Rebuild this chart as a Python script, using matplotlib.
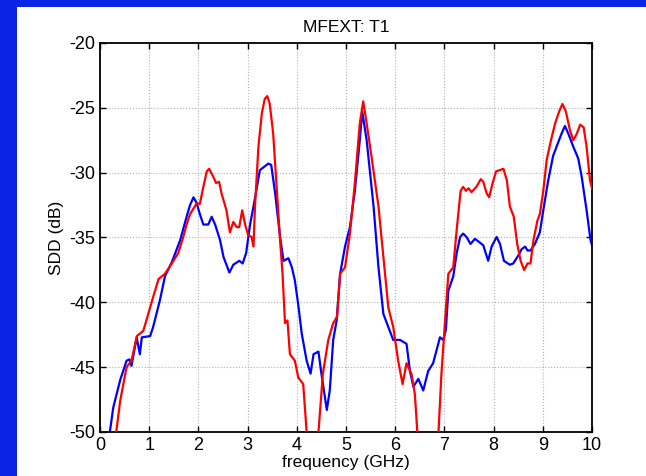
import matplotlib
matplotlib.use("Agg")
import matplotlib.pyplot as plt
from matplotlib.patches import Rectangle

plt.rcParams['font.family'] = ['Liberation Sans', 'DejaVu Sans']
plt.rcParams['axes.unicode_minus'] = False

title = "MFEXT: T1"
xlabel = "frequency (GHz)"
ylabel = "SDD (dB)"
xticks = [0, 1, 2, 3, 4, 5, 6, 7, 8, 9, 10]
yticks = [-50, -45, -40, -35, -30, -25, -20]

blue_f = [0.15, 0.2, 0.27, 0.41, 0.54, 0.6, 0.64, 0.745, 0.81, 0.85, 1.02, 1.08, 1.22, 1.32,
          1.46, 1.63, 1.76, 1.83, 1.9, 1.96, 2.03, 2.1, 2.2, 2.27, 2.34, 2.44, 2.51, 2.63,
          2.71, 2.83, 2.9, 2.97, 3.05, 3.12, 3.19, 3.25, 3.32, 3.42, 3.48, 3.56, 3.66,
          3.73, 3.83, 3.9, 3.96, 4.03, 4.1, 4.2, 4.28, 4.34, 4.44, 4.5, 4.61, 4.67, 4.74,
          4.81, 4.88, 4.98, 5.08, 5.18, 5.28, 5.33, 5.42, 5.56, 5.66, 5.76, 5.86, 5.96,
          6.1, 6.23, 6.3, 6.37, 6.47, 6.57, 6.67, 6.77, 6.91, 6.98, 7.03, 7.08, 7.18, 7.25,
          7.32, 7.38, 7.45, 7.53, 7.62, 7.69, 7.79, 7.89, 7.96, 8.06, 8.13, 8.21, 8.33,
          8.4, 8.5, 8.57, 8.64, 8.69, 8.75, 8.84, 8.94, 9.01, 9.11, 9.21, 9.31, 9.38,
          9.45, 9.52, 9.62, 9.72, 9.79, 9.89, 9.97, 10.0]
blue_v = [-52.0, -50.0, -48.1, -46.0, -44.5, -44.4, -44.9, -42.7, -44.0, -42.7, -42.6, -41.9,
          -39.8, -38.0, -36.9, -35.2, -33.4, -32.5, -31.9, -32.3, -33.2, -34.0, -34.0,
          -33.4, -34.0, -35.2, -36.5, -37.7, -37.1, -36.8, -37.0, -36.2, -34.0, -32.6,
          -31.1, -29.8, -29.6, -29.3, -29.4, -31.6, -34.96, -36.8, -36.6, -37.3, -38.3,
          -40.2, -42.4, -44.5, -45.5, -44.0, -43.8, -45.5, -48.3, -46.8, -42.9, -41.4,
          -37.8, -35.7, -34.2, -31.4, -27.5, -25.3, -27.5, -32.6, -37.3, -40.9, -41.9,
          -42.9, -42.9, -43.2, -45.3, -46.5, -45.9, -46.8, -45.3, -44.7, -42.7, -42.9,
          -42.1, -39.1, -38.0, -36.2, -34.96, -34.7, -34.96, -35.5, -35.1, -35.3, -35.6,
          -36.8, -35.7, -34.96, -35.5, -36.8, -37.1, -37.0, -36.4, -35.9, -35.7, -36.0,
          -36.0, -35.5, -34.6, -32.9, -30.6, -28.7, -27.7, -27.0, -26.4, -27.0, -28.0,
          -28.9, -30.3, -32.9, -35.2, -35.6]

red_f = [0.28, 0.33, 0.41, 0.54, 0.64, 0.75, 0.88, 0.98, 1.08, 1.19, 1.32, 1.46, 1.59, 1.69,
         1.76, 1.83, 1.96, 2.03, 2.1, 2.17, 2.22, 2.3, 2.36, 2.42, 2.47, 2.57, 2.64, 2.71,
         2.78, 2.83, 2.89, 2.95, 3.01, 3.08, 3.12, 3.15, 3.22, 3.29, 3.35, 3.4, 3.45,
         3.52, 3.59, 3.66, 3.71, 3.76, 3.81, 3.86, 3.96, 4.03, 4.13, 4.2, 4.3, 4.4, 4.44,
         4.53, 4.64, 4.74, 4.82, 4.88, 4.98, 5.08, 5.18, 5.28, 5.35, 5.42, 5.52, 5.66,
         5.76, 5.86, 5.96, 6.06, 6.15, 6.23, 6.33, 6.4, 6.45, 6.6, 6.8, 6.88, 6.94, 7.01,
         7.08, 7.18, 7.25, 7.33, 7.38, 7.44, 7.49, 7.55, 7.65, 7.74, 7.79, 7.86, 7.91,
         7.98, 8.05, 8.13, 8.2, 8.27, 8.33, 8.41, 8.48, 8.55, 8.62, 8.69, 8.75, 8.81,
         8.89, 8.94, 9.01, 9.08, 9.16, 9.25, 9.34, 9.4, 9.47, 9.55, 9.62, 9.69, 9.76,
         9.83, 9.89, 9.96, 10.0]
red_v = [-52.0, -50.0, -47.6, -45.0, -44.5, -42.6, -42.2, -40.9, -39.6, -38.2, -37.8, -37.0,
         -36.2, -35.0, -34.0, -33.2, -32.4, -32.4, -31.1, -29.9, -29.7, -30.3, -30.8,
         -30.7, -31.6, -32.9, -34.6, -33.8, -34.2, -34.2, -32.9, -34.0, -34.8, -34.96,
         -35.7, -32.6, -28.0, -25.4, -24.3, -24.1, -24.7, -27.0, -31.1, -35.2, -37.8,
         -41.6, -41.4, -44.0, -44.5, -45.8, -46.3, -50.0, -56.0, -53.0, -50.0, -45.5,
         -42.9, -41.6, -41.1, -37.8, -37.3, -34.7, -30.8, -26.2, -24.5, -26.2, -28.8,
         -32.6, -36.5, -40.4, -41.9, -44.5, -46.3, -44.7, -45.5, -47.1, -50.0, -58.0,
         -55.0, -50.0, -45.5, -41.6, -37.8, -37.3, -34.4, -31.4, -31.1, -31.4, -31.2,
         -31.5, -31.1, -30.5, -30.7, -31.6, -31.9, -30.8, -29.9, -29.8, -29.7, -30.6,
         -32.6, -33.4, -35.5, -36.8, -37.5, -37.0, -37.0, -35.2, -33.7, -33.2, -31.4,
         -29.0, -27.6, -26.2, -25.2, -24.7, -25.3, -26.7, -27.5, -27.0, -26.3, -26.5,
         -28.0, -30.6, -31.2]

W, H = 646, 476
fig = plt.figure(figsize=(W / 100, H / 100), dpi=100)
fig.patch.set_facecolor('#0b24e4')
bg = Rectangle((17 / W, 0), 1 - 17 / W, 1 - 7 / H, transform=fig.transFigure,
               facecolor='white', edgecolor='none', zorder=-10)
fig.add_artist(bg)

ax = fig.add_axes([100 / W, (H - 432) / H, (592 - 100) / W, (432 - 43) / H])
ax.set_zorder(1)
ax.plot(red_f, red_v, color='#ff0000', lw=1.6, zorder=3)
ax.plot(blue_f, blue_v, color='#0000ff', lw=1.6, zorder=2)
ax.set_xlim(0, 10)
ax.set_ylim(-50, -20)
ax.set_xticks(xticks)
ax.set_yticks(yticks)
ax.grid(True, linestyle=':', color='#b0b0b0', linewidth=0.8)
ax.tick_params(direction='in', top=True, right=True, labelsize=13, length=4, width=1)
for s in ax.spines.values():
    s.set_linewidth(1.3)
ax.set_title(title, fontsize=12.5, pad=8)
ax.set_xlabel(xlabel, fontsize=12.5, labelpad=1)
ax.set_ylabel(ylabel, fontsize=12.5, labelpad=4)

fig.savefig('out.png', dpi=100, facecolor=fig.get_facecolor())
